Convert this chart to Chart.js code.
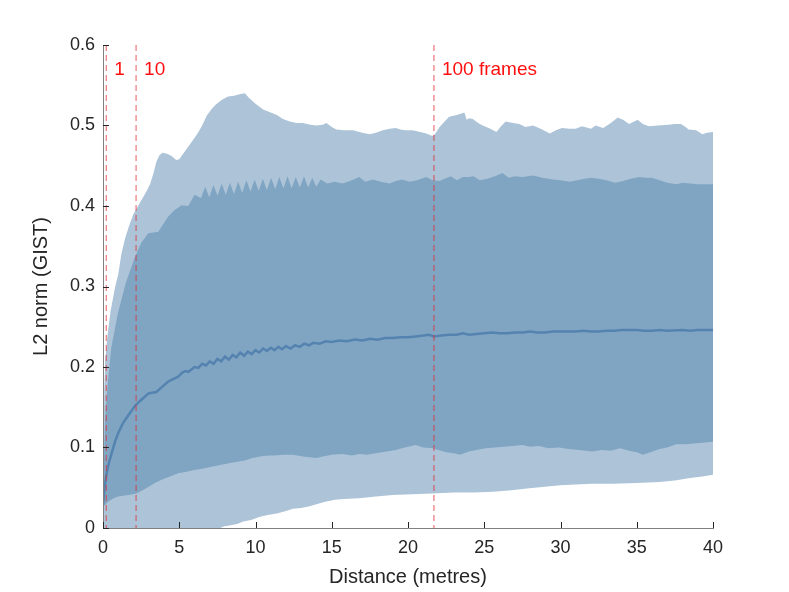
<!DOCTYPE html>
<html>
<head>
<meta charset="utf-8">
<script src="https://cdn.jsdelivr.net/npm/chart.js@4.4.1/dist/chart.umd.min.js"></script>
<style>
    html, body { margin: 0; padding: 0; background: #ffffff; }
    #wrap { width: 789px; height: 592px; }
</style>
</head>
<body>
<div id="wrap"><canvas id="gistChart" width="789" height="592"></canvas></div>
<script>
// distance (metres) -> L2 norm
const outerUpper = [
    [0, 0.03], [0.08, 0.17], [0.15, 0.21], [0.3, 0.24], [0.5, 0.27], [0.8, 0.3], [1.0, 0.315],
    [1.2, 0.34], [1.45, 0.36], [1.7, 0.375], [2.0, 0.39], [2.3, 0.4], [2.6, 0.41], [2.9, 0.42],
    [3.1, 0.428], [3.3, 0.44], [3.5, 0.455], [3.7, 0.463], [3.9, 0.466], [4.2, 0.465], [4.5, 0.462],
    [4.8, 0.457], [5.0, 0.458], [5.3, 0.466], [5.6, 0.474], [5.9, 0.482], [6.2, 0.49], [6.5, 0.5],
    [6.8, 0.512], [7.1, 0.52], [7.4, 0.526], [7.8, 0.532], [8.2, 0.536], [8.6, 0.537], [9.0, 0.539],
    [9.3, 0.54], [9.6, 0.534], [10.0, 0.527], [10.5, 0.52], [11.0, 0.516], [11.4, 0.513], [11.8, 0.508],
    [12.25, 0.505], [12.7, 0.503], [13.1, 0.503], [13.6, 0.501], [14.0, 0.5], [14.4, 0.501], [14.65, 0.503],
    [15.0, 0.498], [15.3, 0.495], [15.8, 0.494], [16.4, 0.494], [17.0, 0.491], [17.5, 0.489], [17.9, 0.491],
    [18.35, 0.494], [18.8, 0.496], [19.2, 0.497], [19.5, 0.495], [19.8, 0.494], [20.3, 0.494], [20.8, 0.492],
    [21.2, 0.49], [21.6, 0.487], [21.8, 0.49], [22.07, 0.498], [22.4, 0.505], [22.7, 0.511], [23.2, 0.513],
    [23.7, 0.516], [23.85, 0.507], [24.0, 0.509], [24.25, 0.508], [24.6, 0.503], [24.9, 0.5], [25.4, 0.496],
    [25.8, 0.492], [26.1, 0.499], [26.4, 0.505], [26.9, 0.503], [27.3, 0.502], [27.7, 0.498], [28.2, 0.5],
    [28.7, 0.496], [29.3, 0.49], [29.7, 0.494], [30.1, 0.497], [30.6, 0.496], [31.0, 0.496], [31.4, 0.499],
    [32.0, 0.496], [32.3, 0.5], [32.8, 0.497], [33.3, 0.503], [33.75, 0.51], [34.1, 0.507], [34.5, 0.502],
    [35.06, 0.507], [35.4, 0.502], [35.8, 0.499], [36.4, 0.5], [37.1, 0.501], [37.5, 0.502], [37.9, 0.502],
    [38.2, 0.498], [38.4, 0.495], [38.9, 0.494], [39.3, 0.489], [39.6, 0.491], [40, 0.492]
];

const innerUpper = [
    [0, 0.03], [0.05, 0.08], [0.15, 0.14], [0.33, 0.184], [0.55, 0.225], [0.98, 0.267], [1.5, 0.305],
    [2.1, 0.337], [2.5, 0.354], [2.97, 0.366], [3.3, 0.367], [3.62, 0.368], [3.9, 0.376], [4.28, 0.387],
    [4.7, 0.395], [5.15, 0.401], [5.59, 0.4], [5.8, 0.407], [6.0, 0.414],
    [6.43, 0.41], [6.7, 0.424], [6.97, 0.411], [7.24, 0.426], [7.51, 0.413], [7.78, 0.428], [8.05, 0.414],
    [8.32, 0.429], [8.59, 0.415], [8.86, 0.43], [9.13, 0.416], [9.4, 0.432], [9.67, 0.418], [9.94, 0.433],
    [10.21, 0.419], [10.48, 0.434], [10.75, 0.42], [11.02, 0.435], [11.29, 0.421], [11.56, 0.436],
    [11.83, 0.422], [12.1, 0.437], [12.37, 0.422], [12.64, 0.436], [12.91, 0.423], [13.18, 0.437],
    [13.45, 0.423], [13.72, 0.435], [13.99, 0.424], [14.26, 0.433],
    [14.7, 0.428], [15.2, 0.43], [15.7, 0.428], [16.2, 0.431], [16.8, 0.436], [17.2, 0.43], [17.7, 0.433],
    [18.2, 0.43], [18.8, 0.428], [19.2, 0.431], [19.6, 0.433], [20.1, 0.43], [20.6, 0.432], [21.2, 0.436],
    [21.6, 0.432], [22.07, 0.431], [22.4, 0.434], [22.8, 0.437], [23.2, 0.432], [23.6, 0.436], [24.0, 0.436],
    [24.3, 0.437], [24.7, 0.432], [25.2, 0.434], [25.7, 0.437], [26.2, 0.441], [26.6, 0.435], [27.0, 0.437],
    [27.5, 0.436], [28.2, 0.438], [28.8, 0.435], [29.5, 0.433], [30.0, 0.432], [30.6, 0.43], [31.1, 0.432],
    [31.6, 0.434], [32.0, 0.435], [32.5, 0.434], [33.0, 0.432], [33.6, 0.429], [34.1, 0.431], [34.6, 0.434],
    [35.2, 0.436], [35.6, 0.435], [36.0, 0.435], [36.5, 0.432], [37.0, 0.429], [37.6, 0.427], [38.0, 0.429],
    [38.5, 0.428], [39.0, 0.427], [39.5, 0.427], [40, 0.427]
];

const median = [
    [0, 0.029], [0.1, 0.05], [0.24, 0.068], [0.4, 0.082], [0.57, 0.093], [0.8, 0.108], [1.0, 0.118],
    [1.3, 0.13], [1.66, 0.14], [2.0, 0.149], [2.16, 0.153], [2.5, 0.159], [2.97, 0.167], [3.2, 0.168],
    [3.5, 0.169], [3.8, 0.174], [4.28, 0.182], [4.6, 0.185], [4.93, 0.188], [5.2, 0.193], [5.4, 0.195],
    [5.6, 0.194], [5.8, 0.197], [6.0, 0.2], [6.25, 0.199], [6.5, 0.204], [6.75, 0.202], [7.0, 0.207],
    [7.25, 0.204], [7.5, 0.21], [7.75, 0.207], [8.0, 0.213], [8.25, 0.209], [8.5, 0.215], [8.75, 0.212],
    [9.0, 0.218], [9.25, 0.214], [9.5, 0.219], [9.75, 0.216], [10.0, 0.221], [10.25, 0.218], [10.5, 0.223],
    [10.75, 0.22], [11.0, 0.224], [11.25, 0.221], [11.5, 0.225], [11.75, 0.222], [12.0, 0.226], [12.3, 0.223],
    [12.6, 0.227], [12.9, 0.225], [13.2, 0.229], [13.5, 0.227], [13.8, 0.23], [14.2, 0.229], [14.6, 0.232],
    [15.0, 0.231], [15.5, 0.233], [16.0, 0.232], [16.5, 0.234], [17.0, 0.233], [17.5, 0.235], [18.0, 0.234],
    [18.5, 0.236], [19.0, 0.236], [19.5, 0.237], [20.0, 0.237], [20.5, 0.238], [21.0, 0.239], [21.4, 0.24],
    [21.7, 0.238], [22.2, 0.239], [22.7, 0.24], [23.2, 0.24], [23.6, 0.242], [24.0, 0.24], [24.5, 0.241],
    [25.0, 0.242], [25.5, 0.243], [26.0, 0.242], [26.5, 0.242], [27.0, 0.243], [27.5, 0.243], [28.0, 0.244],
    [28.5, 0.243], [29.0, 0.243], [29.5, 0.244], [30.0, 0.244], [31.0, 0.244], [31.5, 0.245], [32.0, 0.244],
    [32.5, 0.244], [33.0, 0.245], [33.5, 0.245], [34.0, 0.246], [35.0, 0.246], [35.5, 0.245], [36.0, 0.245],
    [36.5, 0.246], [37.0, 0.245], [38.0, 0.246], [38.5, 0.245], [39.0, 0.246], [40, 0.246]
];

const innerLower = [
    [0, 0.026], [0.35, 0.033], [0.7, 0.037], [1.0, 0.039], [1.66, 0.041], [2.2, 0.043], [2.6, 0.047],
    [2.97, 0.051], [3.4, 0.056], [3.84, 0.06], [4.4, 0.064], [4.93, 0.068], [5.5, 0.07], [6.0, 0.072],
    [6.6, 0.074], [7.1, 0.076], [7.6, 0.078], [8.2, 0.08], [8.7, 0.082], [9.3, 0.084], [9.8, 0.087],
    [10.4, 0.089], [10.9, 0.09], [11.3, 0.09], [11.8, 0.091], [12.45, 0.091], [13.0, 0.089], [13.5, 0.088],
    [14.0, 0.087], [14.5, 0.089], [15.0, 0.091], [15.7, 0.092], [16.3, 0.09], [16.8, 0.092], [17.3, 0.091],
    [17.9, 0.093], [18.6, 0.095], [19.2, 0.097], [19.8, 0.1], [20.5, 0.103], [21.0, 0.1], [21.6, 0.099],
    [22.0, 0.097], [22.5, 0.094], [23.0, 0.093], [23.4, 0.091], [24.0, 0.095], [24.5, 0.097], [25.1, 0.099],
    [25.7, 0.1], [26.3, 0.101], [26.9, 0.102], [27.5, 0.103], [28.0, 0.101], [28.6, 0.102], [29.2, 0.099],
    [29.9, 0.1], [30.5, 0.098], [31.2, 0.097], [32.1, 0.095], [32.7, 0.097], [33.3, 0.096], [33.9, 0.099],
    [34.5, 0.096], [35.0, 0.094], [35.4, 0.091], [35.9, 0.094], [36.5, 0.098], [37.0, 0.1], [37.6, 0.104],
    [38.2, 0.104], [38.8, 0.105], [39.3, 0.106], [40, 0.107]
];

const outerLower = [
    [0, 0], [7.7, 0], [7.9, 0.002], [8.3, 0.003], [8.8, 0.005], [9.2, 0.008], [9.7, 0.01], [10.3, 0.014],
    [10.8, 0.016], [11.4, 0.018], [12.0, 0.021], [12.46, 0.024], [13.0, 0.025], [13.55, 0.027], [14.1, 0.03],
    [14.65, 0.033], [15.2, 0.035], [15.8, 0.036], [16.8, 0.037], [17.9, 0.039], [19.0, 0.041], [20.3, 0.042],
    [21.6, 0.043], [23.0, 0.044], [24.3, 0.044], [25.6, 0.045], [26.8, 0.047], [27.8, 0.049], [28.8, 0.051],
    [30.0, 0.053], [31.0, 0.054], [32.1, 0.055], [33.5, 0.055], [35.0, 0.056], [36.5, 0.057], [37.5, 0.059],
    [38.5, 0.062], [39.3, 0.064], [40, 0.066]
];

// distance covered by 1, 10 and 100 frames
const frameMarks = [0.217, 2.17, 21.7];
const frameLabels = ['1', '10', '100 frames'];

const xTicks = [0, 5, 10, 15, 20, 25, 30, 35, 40];
const yTicks = [0, 0.1, 0.2, 0.3, 0.4, 0.5, 0.6];

const lightBand = '#adc4d8';
const darkBand = '#80a5c3';
const textColor = '#262626';
const fontFamily = '"Liberation Sans", Arial, sans-serif';

function toPoints(arr) {
    return arr.map(p => ({ x: p[0], y: p[1] }));
}

function area(data, color, order) {
    return {
        data: toPoints(data),
        borderWidth: 0,
        borderColor: color,
        backgroundColor: color,
        fill: 'origin',
        pointRadius: 0,
        tension: 0,
        order: order
    };
}

const frameMarkers = {
    id: 'frameMarkers',
    afterDatasetsDraw(chart) {
        const { ctx, chartArea, scales } = chart;
        ctx.save();
        frameMarks.forEach((d, i) => {
            const px = scales.x.getPixelForValue(d);
            ctx.strokeStyle = 'rgba(225, 40, 50, 0.55)';
            ctx.lineWidth = 1.4;
            ctx.setLineDash([6, 4]);
            ctx.beginPath();
            ctx.moveTo(px, chartArea.top);
            ctx.lineTo(px, chartArea.bottom);
            ctx.stroke();
            ctx.setLineDash([]);
            ctx.fillStyle = '#ff1010';
            ctx.font = '19px ' + fontFamily;
            ctx.textBaseline = 'middle';
            ctx.textAlign = 'left';
            ctx.fillText(frameLabels[i], px + 8, chartArea.top + 25);
        });
        ctx.restore();
    },
    afterDraw(chart) {
        // inward tick marks, matlab style
        const { ctx, chartArea, scales } = chart;
        ctx.save();
        ctx.strokeStyle = textColor;
        ctx.lineWidth = 1;
        ctx.beginPath();
        xTicks.forEach(v => {
            const px = Math.round(scales.x.getPixelForValue(v)) + 0.5;
            ctx.moveTo(px, chartArea.bottom);
            ctx.lineTo(px, chartArea.bottom - 6);
        });
        yTicks.forEach(v => {
            const py = Math.round(scales.y.getPixelForValue(v)) + 0.5;
            ctx.moveTo(chartArea.left, py);
            ctx.lineTo(chartArea.left + 6, py);
        });
        ctx.stroke();
        ctx.restore();
    }
};

const ctx = document.getElementById('gistChart').getContext('2d');
const gistChart = new Chart(ctx, {
    type: 'line',
    data: {
        datasets: [
            area(outerUpper, lightBand, 6),
            area(innerUpper, darkBand, 5),
            area(innerLower, lightBand, 4),
            area(outerLower, '#ffffff', 3),
            {
                data: toPoints(median),
                borderColor: '#5583b0',
                borderWidth: 2.5,
                fill: false,
                pointRadius: 0,
                tension: 0,
                order: 1
            }
        ]
    },
    options: {
        responsive: false,
        animation: false,
        devicePixelRatio: 1,
        layout: { padding: { left: 0, right: 76, top: 45, bottom: 0 } },
        scales: {
            x: {
                type: 'linear',
                min: 0,
                max: 40,
                afterFit: s => { s.height = 64; },
                afterBuildTicks: s => { s.ticks = xTicks.map(v => ({ value: v })); },
                grid: { display: false, drawTicks: false },
                border: { display: true, color: '#7f7f7f', width: 1, z: 1 },
                ticks: {
                    color: textColor,
                    padding: 9,
                    maxRotation: 0,
                    font: { family: fontFamily, size: 18 },
                    callback: v => String(v)
                },
                title: {
                    display: true,
                    text: 'Distance (metres)',
                    color: textColor,
                    padding: { top: 0, bottom: 3 },
                    font: { family: fontFamily, size: 20 }
                }
            },
            y: {
                min: 0,
                max: 0.6,
                afterFit: s => { s.width = 103; },
                afterBuildTicks: s => { s.ticks = yTicks.map(v => ({ value: v })); },
                grid: { display: false, drawTicks: false },
                border: { display: true, color: '#7f7f7f', width: 1, z: 1 },
                ticks: {
                    color: textColor,
                    padding: 8,
                    font: { family: fontFamily, size: 18 },
                    callback: v => String(parseFloat(v.toFixed(1)))
                },
                title: {
                    display: true,
                    text: 'L2 norm (GIST)',
                    color: textColor,
                    padding: { top: 29, bottom: 0 },
                    font: { family: fontFamily, size: 20 }
                }
            }
        },
        plugins: {
            legend: { display: false },
            tooltip: { enabled: false }
        }
    },
    plugins: [frameMarkers]
});
</script>
</body>
</html>
